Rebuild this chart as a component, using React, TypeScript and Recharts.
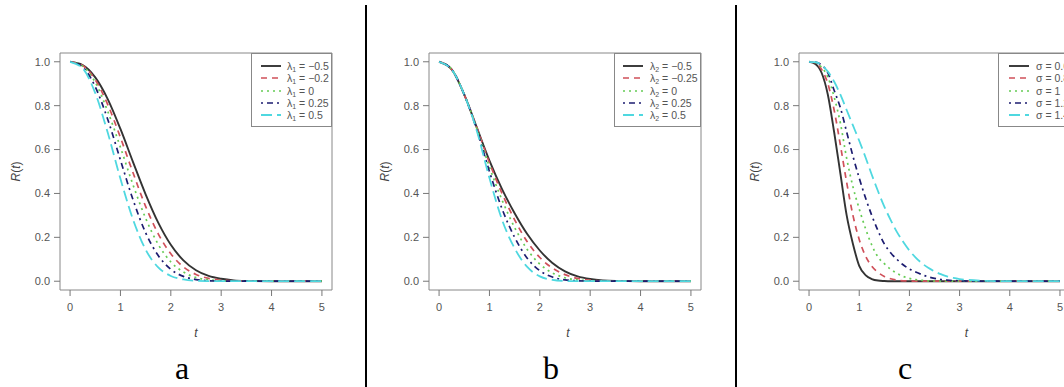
import React from "react";
import { LineChart, Line, XAxis, YAxis, ReferenceArea, Legend } from "recharts";

// time grids
const tAB = [0, 0.25, 0.5, 0.75, 1, 1.25, 1.5, 1.75, 2, 2.25, 2.5, 2.75, 3, 3.25, 3.5, 4, 4.5, 5];
const tC = [
  0, 0.125, 0.25, 0.375, 0.5, 0.625, 0.75, 0.875, 1, 1.125, 1.25, 1.375, 1.5, 1.625, 1.75,
  1.875, 2, 2.125, 2.25, 2.375, 2.5, 2.625, 2.75, 2.875, 3, 3.5, 4, 4.5, 5,
];

// panel a: lambda1
const aBlack = [1, 0.985, 0.929, 0.829, 0.694, 0.543, 0.396, 0.267, 0.166, 0.095, 0.05, 0.024, 0.011, 0.004, 0.0015, 0, 0, 0];
const aRed = [1, 0.983, 0.918, 0.804, 0.655, 0.494, 0.341, 0.216, 0.125, 0.065, 0.031, 0.013, 0.005, 0.0018, 0.0006, 0, 0, 0];
const aGreen = [1, 0.98, 0.906, 0.773, 0.61, 0.439, 0.287, 0.168, 0.088, 0.042, 0.017, 0.0066, 0.0022, 0.0007, 0, 0, 0, 0];
const aNavy = [1, 0.976, 0.886, 0.736, 0.552, 0.371, 0.221, 0.117, 0.054, 0.022, 0.0075, 0.0023, 0.0006, 0, 0, 0, 0, 0];
const aCyan = [1, 0.97, 0.857, 0.675, 0.467, 0.281, 0.144, 0.063, 0.024, 0.008, 0.002, 0.0005, 0, 0, 0, 0, 0, 0];

// panel b: lambda2
const bBlack = [1, 0.965, 0.85, 0.7, 0.55, 0.42, 0.31, 0.215, 0.14, 0.083, 0.045, 0.022, 0.01, 0.004, 0.0015, 0, 0, 0];
const bRed = [1, 0.965, 0.85, 0.7, 0.54, 0.4, 0.28, 0.18, 0.108, 0.06, 0.03, 0.013, 0.005, 0.0015, 0.0005, 0, 0, 0];
const bGreen = [1, 0.965, 0.85, 0.695, 0.52, 0.37, 0.245, 0.145, 0.078, 0.038, 0.016, 0.006, 0.002, 0.0005, 0, 0, 0, 0];
const bNavy = [1, 0.965, 0.85, 0.69, 0.5, 0.33, 0.2, 0.105, 0.048, 0.019, 0.006, 0.002, 0.0005, 0, 0, 0, 0, 0];
const bCyan = [1, 0.965, 0.85, 0.685, 0.47, 0.28, 0.15, 0.065, 0.022, 0.006, 0.001, 0, 0, 0, 0, 0, 0, 0];

// panel c: sigma
const cBlack = [1, 0.99, 0.95, 0.85, 0.68, 0.49, 0.3, 0.17, 0.07, 0.028, 0.01, 0.003, 0.001, 0, 0, 0, 0, 0, 0, 0, 0, 0, 0, 0, 0, 0, 0, 0, 0];
const cRed = [1, 0.995, 0.965, 0.9, 0.78, 0.62, 0.45, 0.3, 0.19, 0.115, 0.068, 0.04, 0.022, 0.011, 0.005, 0.002, 0.001, 0, 0, 0, 0, 0, 0, 0, 0, 0, 0, 0, 0];
const cGreen = [1, 0.997, 0.975, 0.93, 0.84, 0.72, 0.56, 0.43, 0.33, 0.24, 0.165, 0.11, 0.08, 0.055, 0.036, 0.022, 0.013, 0.007, 0.004, 0.002, 0.001, 0, 0, 0, 0, 0, 0, 0, 0];
const cNavy = [1, 0.998, 0.985, 0.95, 0.87, 0.79, 0.68, 0.57, 0.47, 0.38, 0.3, 0.23, 0.17, 0.13, 0.1, 0.075, 0.056, 0.042, 0.03, 0.02, 0.013, 0.008, 0.005, 0.003, 0.002, 0, 0, 0, 0];
const cCyan = [1, 0.998, 0.985, 0.955, 0.91, 0.85, 0.78, 0.71, 0.64, 0.565, 0.485, 0.41, 0.34, 0.28, 0.225, 0.18, 0.14, 0.108, 0.082, 0.061, 0.045, 0.032, 0.022, 0.015, 0.01, 0.002, 0, 0, 0];

const xTicks = [0, 1, 2, 3, 4, 5];
const yTicks = [0, 0.2, 0.4, 0.6, 0.8, 1];

const aLabels = ["−0.5", "−0.2", "0", "0.25", "0.5"];
const bLabels = ["−0.5", "−0.25", "0", "0.25", "0.5"];
const cLabels = ["0.6", "0.8", "1", "1.2", "1.4"];

const styles = [
  { color: "#333333", dash: undefined, width: 1.9 },
  { color: "#d0505a", dash: "6 5", width: 1.7 },
  { color: "#66cc55", dash: "2 4", width: 1.7 },
  { color: "#1c1c70", dash: "2 4 6 4", width: 1.7 },
  { color: "#4fd8e0", dash: "11 5", width: 1.8 },
];

const FONT = "'Liberation Sans', Arial, sans-serif";
const Y_W = 50;
const X_H = 40;

type Panel = {
  left: number;
  width: number;
  boxLeft: number;
  boxRight: number;
  t: number[];
  series: number[][];
  sym: string;
  sub?: string;
  labels: string[];
  legend: { left: number; width: number; sampleX: number; textX: number };
  tDx: number;
};

const panels: Panel[] = [
  {
    left: 0, width: 360, boxLeft: 60, boxRight: 332,
    t: tAB, series: [aBlack, aRed, aGreen, aNavy, aCyan], sym: "λ", sub: "1", labels: aLabels,
    legend: { left: 251, width: 81, sampleX: 9, textX: 35 }, tDx: 0,
  },
  {
    left: 360, width: 360, boxLeft: 69, boxRight: 341,
    t: tAB, series: [bBlack, bRed, bGreen, bNavy, bCyan], sym: "λ", sub: "2", labels: bLabels,
    legend: { left: 254, width: 87, sampleX: 8, textX: 35 }, tDx: 3,
  },
  {
    left: 720, width: 360, boxLeft: 79, boxRight: 350,
    t: tC, series: [cBlack, cRed, cGreen, cNavy, cCyan], sym: "σ", labels: cLabels,
    legend: { left: 278, width: 90, sampleX: 10, textX: 37 }, tDx: 32,
  },
];

const LegendBox = ({ p }: { p: Panel }) => (
  <div
    style={{
      width: p.legend.width - 2, height: 72, border: "1px solid #888", background: "#fff",
      position: "relative", fontFamily: FONT, fontSize: 10.5, color: "#555",
    }}
  >
    {p.labels.map((lab, i) => (
      <div key={i} style={{ position: "absolute", left: 0, top: 6 + i * 12.3, height: 12, width: "100%" }}>
        <svg width={22} height={12} style={{ position: "absolute", left: p.legend.sampleX }}>
          <line x1={0} x2={20} y1={6} y2={6} stroke={styles[i].color}
            strokeWidth={styles[i].width} strokeDasharray={styles[i].dash} />
        </svg>
        <span style={{ position: "absolute", left: p.legend.textX, top: 0, lineHeight: "12px", whiteSpace: "nowrap" }}>
          {p.sym}
          {p.sub ? <sub style={{ fontSize: 7, verticalAlign: "-2px" }}>{p.sub}</sub> : null}
          {" = "}
          {lab}
        </span>
      </div>
    ))}
  </div>
);

const YTitle = (props: any) => {
  const { viewBox } = props;
  const cx = viewBox.x + viewBox.width - 44;
  const cy = viewBox.y + viewBox.height / 2;
  return (
    <text x={cx} y={cy} transform={`rotate(-90 ${cx} ${cy})`} textAnchor="middle"
      dominantBaseline="central" fontSize={12} fill="#444" fontFamily={FONT}>
      <tspan fontStyle="italic">R</tspan>(<tspan fontStyle="italic">t</tspan>)
    </text>
  );
};

const makeXTitle = (dx: number) => (props: any) => {
  const { viewBox } = props;
  const cx = viewBox.x + viewBox.width / 2 + dx;
  return (
    <text x={cx} y={viewBox.y + 43} textAnchor="middle" dominantBaseline="central"
      fontSize={12} fill="#444" fontFamily={FONT} fontStyle="italic">
      t
    </text>
  );
};

const PanelChart = ({ p }: { p: Panel }) => {
  const data = p.t.map((t, i) => {
    const row: Record<string, number> = { t };
    p.series.forEach((s, k) => (row[`s${k}`] = s[i]));
    return row;
  });
  const margin = { top: 53, right: p.width - p.boxRight, bottom: 387 - 290 - X_H, left: p.boxLeft - Y_W };
  return (
    <div style={{ position: "absolute", left: p.left, top: 0 }}>
      <LineChart width={p.width} height={387} data={data} margin={margin} style={{ fontFamily: FONT }}>
        <ReferenceArea x1={-0.2} x2={5.2} y1={-0.04} y2={1.04} fill="none" stroke="#888" strokeWidth={1} ifOverflow="visible" />
        <XAxis type="number" dataKey="t" domain={[-0.2, 5.2]} allowDataOverflow ticks={xTicks}
          height={X_H} axisLine={false} tickLine={{ stroke: "#777" }} tickSize={6} tickMargin={7}
          tick={{ fill: "#555", fontSize: 11 }} label={makeXTitle(p.tDx)} />
        <YAxis type="number" domain={[-0.04, 1.04]} allowDataOverflow ticks={yTicks} width={Y_W}
          axisLine={false} tickLine={{ stroke: "#777" }} tickSize={6} tickMargin={4}
          tick={{ fill: "#555", fontSize: 11 }} tickFormatter={(v: number) => v.toFixed(1)}
          label={<YTitle />} />
        {p.series.map((_, k) => (
          <Line key={k} type="monotone" dataKey={`s${k}`} stroke={styles[k].color}
            strokeWidth={styles[k].width} strokeDasharray={styles[k].dash}
            dot={false} activeDot={false} isAnimationActive={false} />
        ))}
        <Legend layout="vertical" align="center" verticalAlign="middle"
          wrapperStyle={{ left: p.legend.left, top: 53, width: p.legend.width, height: 74 }}
          content={() => <LegendBox p={p} />} />
      </LineChart>
    </div>
  );
};

const captions = [
  { text: "a", x: 182 },
  { text: "b", x: 551 },
  { text: "c", x: 905 },
];

export default function App() {
  return (
    <div style={{ position: "fixed", left: 0, top: 0, width: 1064, height: 387, overflow: "hidden", background: "#fff" }}>
      {panels.map((p, i) => (
        <PanelChart key={i} p={p} />
      ))}
      <div style={{ position: "absolute", left: 365, top: 5, width: 2, height: 390, background: "#000" }} />
      <div style={{ position: "absolute", left: 735, top: 5, width: 2, height: 390, background: "#000" }} />
      {captions.map((c) => (
        <div key={c.text} style={{
          position: "absolute", left: c.x - 20, width: 40, top: 350, textAlign: "center",
          fontFamily: "'Liberation Serif', 'Times New Roman', serif", fontSize: 32, lineHeight: "36px", color: "#000",
        }}>
          {c.text}
        </div>
      ))}
    </div>
  );
}
